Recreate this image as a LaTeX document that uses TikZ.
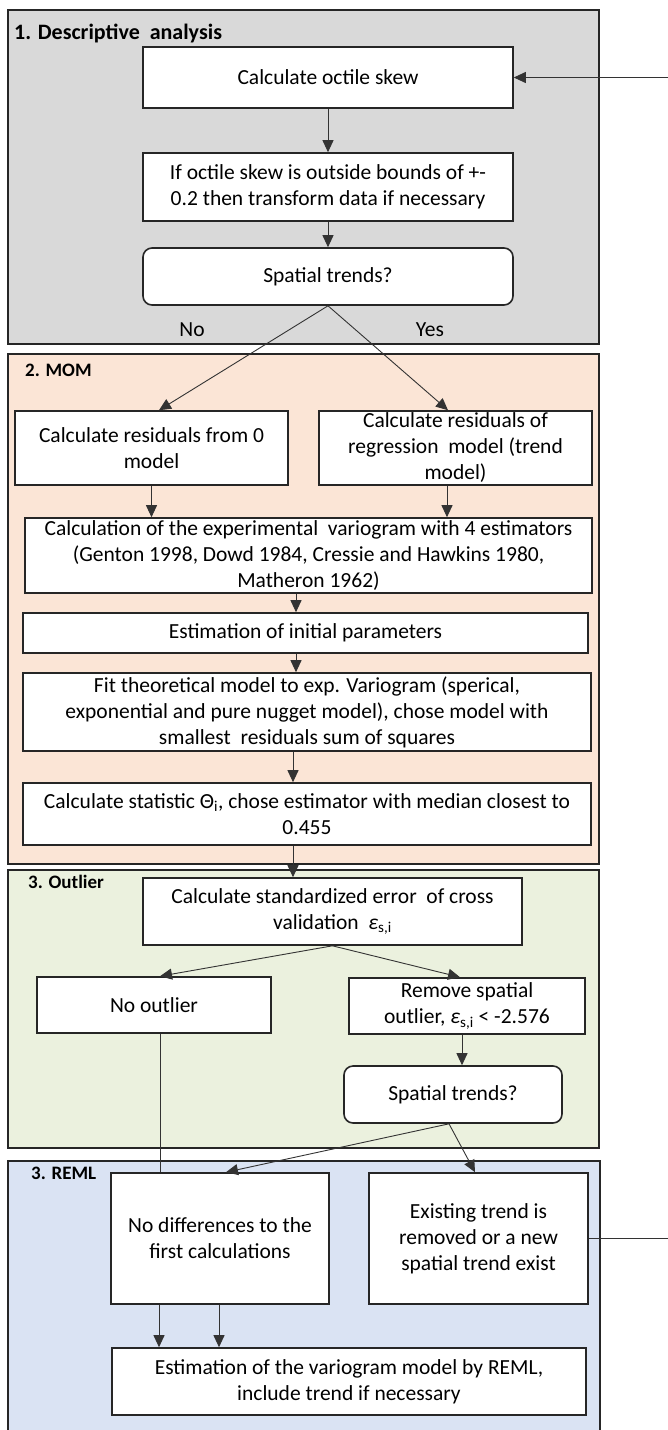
\documentclass[tikz,border=0pt]{standalone}
\usepackage{fontspec}
\setmainfont{Carlito}
\usepackage{tikz}
\usetikzlibrary{arrows.meta}
\definecolor{secgray}{HTML}{D9D9D9}
\definecolor{secpeach}{HTML}{FBE5D6}
\definecolor{secgreen}{HTML}{EBF1DE}
\definecolor{secblue}{HTML}{DAE3F3}

\begin{document}
\begin{tikzpicture}[x=1pt, y=-1pt, >={Triangle[length=12pt,width=11pt]},
  box/.style={draw=black!85, line width=1.6pt, fill=white, align=center,
    inner sep=0pt, font=\fontsize{21.5}{26}\selectfont},
  decide/.style={box, rounded corners=9pt},
  section/.style={draw=black!85, line width=2.2pt},
  sectitle/.style={anchor=west, inner sep=0pt, font=\bfseries\fontsize{19}{22}\selectfont},
  answer/.style={inner sep=0pt, font=\fontsize{21.5}{26}\selectfont},
  flow/.style={->, line width=0.9pt, draw=black!80},
  plain/.style={line width=0.9pt, draw=black!80}]
\useasboundingbox (0,0) rectangle (668,1430);

% sections
\filldraw[section, fill=secgray]  (8,10)  rectangle (599,344);
\filldraw[section, fill=secpeach] (8,354) rectangle (599,864);
\filldraw[section, fill=secgreen] (8,870) rectangle (599,1148);
\fill[secblue] (8,1161) rectangle (600,1440);
\draw[section] (8,1440) -- (8,1161) -- (600,1161) -- (600,1440);

\node[sectitle, font=\bfseries\fontsize{22}{24}\selectfont] (t1) at (14,33) {1. Descriptive\ \ analysis};
\node[sectitle] (t2) at (25,370)  {2. MOM};
\node[sectitle] (t3) at (28,882)  {3. Outlier};
\node[sectitle] (t4) at (31,1173) {3. REML};

% 1. descriptive
\node[box, minimum width=370, minimum height=61] (octile) at (328,77.5) {Calculate octile skew};
\node[box, minimum width=370, minimum height=68] (transform) at (328,187)
  {If octile skew is outside bounds of +-\\0.2 then transform data if necessary};
\node[decide, minimum width=370, minimum height=57] (trendA) at (328,276.5) {Spatial trends?};
\node[answer] (no)  at (192,330) {No};
\node[answer] (yes) at (430,330) {Yes};

% 2. MOM
\node[box, minimum width=273, minimum height=74] (zeroRes) at (151.5,448)
  {Calculate residuals from 0\\model};
\node[box, minimum width=273, minimum height=74] (regRes) at (455.5,448)
  {Calculate residuals of\\regression\ \ model (trend\\model)};
\node[box, minimum width=567, minimum height=75] (expVario) at (308.5,555.5)
  {Calculation of the experimental\ \ variogram with 4 estimators\\(Genton 1998, Dowd 1984, Cressie and Hawkins 1980,\\Matheron 1962)};
\node[box, minimum width=565, minimum height=40] (initPar) at (305.5,633)
  {Estimation of initial parameters};
\node[box, minimum width=568, minimum height=78] (fitModel) at (307,712)
  {Fit theoretical model to exp. Variogram (sperical,\\exponential and pure nugget model), chose model with\\smallest\ \ residuals sum of squares};
\node[box, minimum width=568, minimum height=62] (statTheta) at (307,814)
  {Calculate statistic Θ\textsubscript{i}, chose estimator with median closest to\\0.455};

% 3. outlier
\node[box, minimum width=379, minimum height=67] (crossVal) at (332.5,911.5)
  {Calculate standardized error\ \ of cross\\validation\ \ {\itshape ε}\textsubscript{s,i}};
\node[box, minimum width=233.5, minimum height=56] (noOut) at (154,1005) {No outlier};
\node[box, minimum width=236, minimum height=56] (remOut) at (467,1006)
  {Remove spatial\\outlier, {\itshape ε}\textsubscript{s,i} < -2.576};
\node[decide, minimum width=218, minimum height=57] (trendB) at (453,1094.5) {Spatial trends?};

% 3. REML
\node[box, minimum width=218, minimum height=131] (noDiff) at (220,1238.5)
  {No differences to the\\first calculations};
\node[box, minimum width=219, minimum height=131] (newTrend) at (478.5,1238.5)
  {Existing trend is\\removed or a new\\spatial trend exist};
\node[box, minimum width=474, minimum height=67] (reml) at (349,1381.5)
  {Estimation of the variogram model by REML,\\include trend if necessary};

\coordinate (loopin)  at (668,77.5);
\coordinate (loopout) at (668,1238.5);

% connectors
\draw[flow] (octile) -- (transform);
\draw[flow] (transform) -- (trendA);
\draw[flow] (trendA.south) -- ([xshift=7.5pt]zeroRes.north);
\draw[flow] (trendA.south) -- ([xshift=-7.5pt]regRes.north);
\draw[flow] (zeroRes.south) -- (zeroRes.south |- expVario.north);
\draw[flow] ([xshift=-8.5pt]regRes.south) -- ([xshift=-8.5pt]regRes.south |- expVario.north);
\draw[flow] ([xshift=-12.5pt]expVario.south) -- ([xshift=-12.5pt]expVario.south |- initPar.north);
\draw[flow] ([xshift=-9.5pt]initPar.south) -- ([xshift=-9.5pt]initPar.south |- fitModel.north);
\draw[flow] ([xshift=-14pt]fitModel.south) -- ([xshift=-14pt]fitModel.south |- statTheta.north);
\draw[flow] ([xshift=-14pt]statTheta.south) -- ([xshift=-14pt]statTheta.south |- crossVal.north);
\draw[flow] (crossVal.south) -- ([xshift=6pt]noOut.north);
\draw[flow] (crossVal.south) -- ([xshift=-7pt]remOut.north);
\draw[flow] ([xshift=-5pt]remOut.south) -- ([xshift=-5pt]remOut.south |- trendB.north);
\draw[plain] ([xshift=6pt]noOut.south) -- ([xshift=6pt]noOut.south |- noDiff.north);
\draw[flow] ([xshift=-4pt]trendB.south) -- ([xshift=6pt]noDiff.north);
\draw[flow] ([xshift=-4pt]trendB.south) -- ([xshift=-3.5pt]newTrend.north);
\draw[flow] ([xshift=-61pt]noDiff.south) -- ([xshift=-61pt]noDiff.south |- reml.north);
\draw[flow] ([xshift=-1pt]noDiff.south) -- ([xshift=-1pt]noDiff.south |- reml.north);
\draw[plain] (newTrend.east) -- (loopout);
\draw[flow] (loopin) -- (octile.east);
\end{tikzpicture}
\end{document}
